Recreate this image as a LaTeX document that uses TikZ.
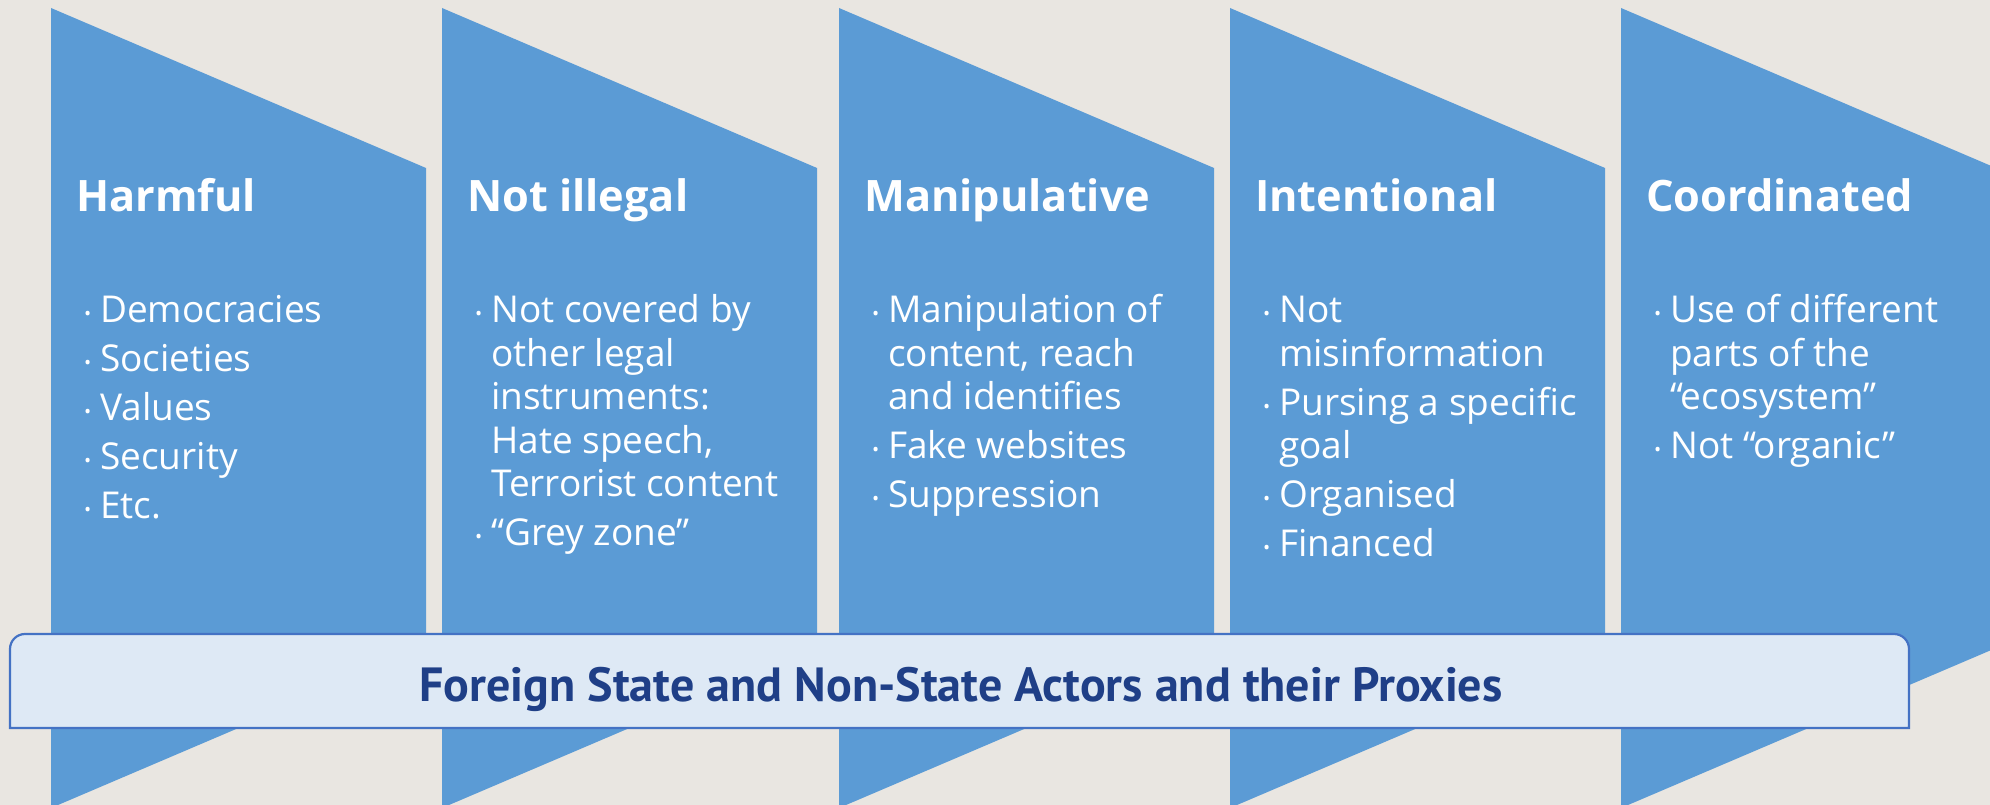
\documentclass[tikz,border=0pt]{standalone}
\usepackage{fontspec}
\setmainfont{Open Sans}
\newfontfamily\titlefont{PT Sans}
\usepackage{graphicx}
\definecolor{bgc}{HTML}{E9E6E1}
\definecolor{panelc}{HTML}{5B9BD5}
\definecolor{boxfill}{HTML}{DEE9F5}
\definecolor{boxline}{HTML}{4472C4}
\definecolor{titlec}{HTML}{1F3F87}
\newcommand\bdot{\raisebox{2pt}{\fontsize{19}{19}\selectfont •}}
\tikzset{
  panel/.style={fill=panelc},
  head/.style={anchor=base west, inner sep=0pt, text=white, font=\fontsize{43.3}{50}\selectfont\bfseries},
  blist/.style={anchor=base west, inner sep=0pt, text=white, font=\fontsize{37}{43.5}\selectfont},
  banner/.style={fill=boxfill, draw=boxline, line width=2.2pt},
}
\begin{document}
\begin{tikzpicture}[x=1pt,y=-1pt]
\useasboundingbox (0,0) rectangle (1990,805);
\fill[bgc] (0,0) rectangle (1990,805);
\begin{scope}
\clip (0,0) rectangle (1990,805);
\foreach \L in {51,442,839,1230,1621}
  \fill[panel] (\L,8) -- (\L+375,168) -- (\L+375,648) -- (\L,808) -- cycle;
\end{scope}

\node[head] (h1) at (76,212) {Harmful};
\node[head] (h2) at (467,212) {Not illegal};
\node[head] (h3) at (864,212) {Manipulative};
\node[head] (h4) at (1255,212) {Intentional};
\node[head] (h5) at (1646,212) {Coordinated};

\node[blist] (l1) at (84,323) {\begin{tabular}[t]{@{}p{16pt}@{}l@{}}
\bdot & Democracies\\[5.5pt]
\bdot & Societies\\[5.5pt]
\bdot & Values\\[5.5pt]
\bdot & Security\\[5.5pt]
\bdot & Etc.
\end{tabular}};

\node[blist] (l2) at (475,323) {\begin{tabular}[t]{@{}p{16pt}@{}l@{}}
\bdot & Not covered by\\
 & other legal\\
 & instruments:\\
 & Hate speech,\\
 & Terrorist content\\[5.5pt]
\bdot & “Grey zone”
\end{tabular}};

\node[blist] (l3) at (872,323) {\begin{tabular}[t]{@{}p{16pt}@{}l@{}}
\bdot & Manipulation of\\
 & content, reach\\
 & and identifies\\[5.5pt]
\bdot & Fake websites\\[5.5pt]
\bdot & Suppression
\end{tabular}};

\node[blist] (l4) at (1263,323) {\begin{tabular}[t]{@{}p{16pt}@{}l@{}}
\bdot & Not\\
 & misinformation\\[5.5pt]
\bdot & Pursing a specific\\
 & goal\\[5.5pt]
\bdot & Organised\\[5.5pt]
\bdot & Financed
\end{tabular}};

\node[blist] (l5) at (1654,323) {\begin{tabular}[t]{@{}p{16pt}@{}l@{}}
\bdot & Use of different\\
 & parts of the\\
 & “ecosystem”\\[5.5pt]
\bdot & Not “organic”
\end{tabular}};

\draw[banner] (10,728) [rounded corners=15pt] -- (10,634) -- (1909,634) [sharp corners] -- (1909,728) -- cycle;
\node[anchor=base, inner sep=0pt, text=titlec, font=\fontsize{48}{50}\selectfont\titlefont\bfseries] (title) at (961,701) {Foreign State and Non-State Actors and their Proxies};
\end{tikzpicture}
\end{document}
